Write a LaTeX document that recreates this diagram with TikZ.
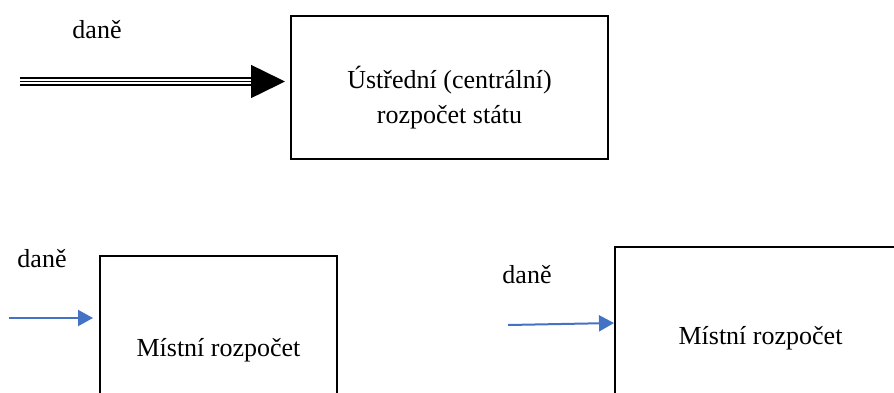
\documentclass[tikz,border=0pt]{standalone}
\usepackage{fontspec}
\setmainfont{Liberation Serif}
\usepackage{xcolor}
\usetikzlibrary{arrows.meta,positioning}
\definecolor{modra}{RGB}{68,114,196}

\begin{document}
\begin{tikzpicture}[x=1pt, y=-1pt,
  box/.style={draw, line width=2pt, align=center, inner sep=0pt,
              font=\fontsize{26}{35}\selectfont},
  popis/.style={font=\fontsize{26}{35}\selectfont, inner sep=0pt},
  trojita/.style={line width=1.8pt},
  sipka/.style={line width=1.5pt, -{Triangle[length=34pt, width=33pt]}},
  modrasipka/.style={modra, line width=2pt, -{Triangle[length=15pt, width=16pt]}}]
\useasboundingbox (0,0) rectangle (894,392);
\clip (0,0) rectangle (894,392);
% horni cast
\node[box, minimum width=317pt, minimum height=143pt] (ustredni) at (449.5,87.5) {};
\node[popis, align=center] (ustredni-text) at ([yshift=-10pt]ustredni.center)
  {Ústřední (centrální)\\ rozpočet státu};
\coordinate (zdroj) at (20,81.5);
\node[popis] (dane1) at (97,30) {daně};
\foreach \dy in {-3.5,0,3.5}
  \draw[trojita] ([yshift=\dy pt]zdroj) -- ([xshift=-38pt, yshift=\dy pt]ustredni.west |- zdroj);
\draw[sipka, shorten >=5pt] ([xshift=-40pt]ustredni.west |- zdroj) -- (ustredni.west |- zdroj);
% dolni cast
\node[box, minimum width=237pt, minimum height=188pt] (mistni1) at (218.5,350) {Místní rozpočet};
\node[box, minimum width=291pt, minimum height=182pt] (mistni2) at (760.5,338) {Místní rozpočet};
\coordinate (zdroj1) at (9,318);
\coordinate (zdroj2) at (508,325);
\node[popis] (dane2) at (42,259) {daně};
\node[popis] (dane3) at (527,275) {daně};
\draw[modrasipka, shorten >=6pt] (zdroj1) -- (mistni1.west |- zdroj1);
\draw[modrasipka] (zdroj2) -- ([yshift=-77pt]mistni2.north west);
\end{tikzpicture}
\end{document}
